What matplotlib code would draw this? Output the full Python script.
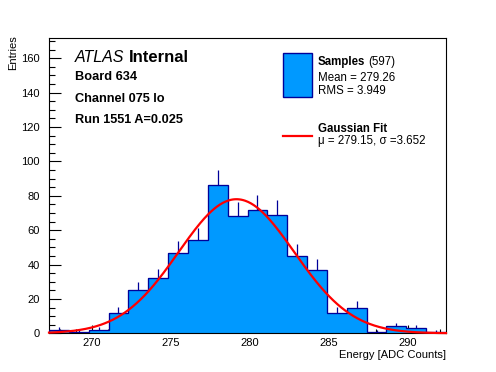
import numpy as np
import matplotlib
matplotlib.use('Agg')
import matplotlib.pyplot as plt
from matplotlib.patches import Rectangle
from matplotlib.lines import Line2D
plt.rcParams["font.family"] = ["Liberation Sans", "DejaVu Sans"]

# histogram: 20 bins between 267.3 and 292.4
bin_lo, bin_hi, n_bins = 267.3, 292.4, 20
counts = [2, 1, 2, 12, 25, 32, 47, 54, 86, 68,
          72, 69, 45, 37, 12, 15, 1, 4, 3, 1]

# fit shown in the legend
fit_mu, fit_sigma, fit_amp = 279.15, 3.652, 78.0

n_entries = 597
mean_txt, rms_txt = '279.26', '3.949'
x_ticks = [270, 275, 280, 285, 290]
y_ticks = [0, 20, 40, 60, 80, 100, 120, 140, 160]

W, H = 496, 372
FILL = '#0099ff'
EDGE = '#000099'


def px(x, y):
    # pixel position (from top-left) -> figure fraction
    return x / W, 1 - y / H


def main():
    fig = plt.figure(figsize=(W / 100, H / 100), dpi=100)
    l, b = px(49, 333.3)
    r, t = px(446, 38.3)
    ax = fig.add_axes([l, b, r - l, t - b])

    edges = np.linspace(bin_lo, bin_hi, n_bins + 1)
    centers = 0.5 * (edges[1:] + edges[:-1])
    cnt = np.array(counts, dtype=float)

    ax.errorbar(centers, cnt, yerr=np.sqrt(cnt), fmt='none', ecolor=EDGE,
                elinewidth=0.9, capsize=0, zorder=1)
    ax.stairs(cnt, edges, fill=True, color=FILL, zorder=2)
    ax.stairs(cnt, edges, baseline=0, color=EDGE, lw=0.95, zorder=3)

    xf = np.linspace(bin_lo, bin_hi, 400)
    yf = fit_amp * np.exp(-0.5 * ((xf - fit_mu) / fit_sigma) ** 2)
    ax.plot(xf, yf, color='red', lw=1.6, zorder=4, clip_on=False)

    ax.set_xlim(bin_lo, bin_hi)
    ax.set_ylim(0, 171.6)
    ax.set_xticks(x_ticks)
    ax.set_yticks(y_ticks)
    ax.set_xticks(np.arange(268, 293, 1), minor=True)
    ax.set_yticks(np.arange(0, 171, 5), minor=True)
    ax.tick_params(axis='x', which='major', direction='in', length=5.8,
                   width=0.8, labelsize=8, pad=3.5)
    ax.tick_params(axis='x', which='minor', direction='in', length=2.9, width=0.8)
    ax.tick_params(axis='y', which='major', direction='in', length=8.6,
                   width=0.8, labelsize=8, pad=6.5)
    ax.tick_params(axis='y', which='minor', direction='in', length=4.3, width=0.8)
    for s in ax.spines.values():
        s.set_linewidth(0.8)

    # axis titles
    fig.text(*px(13, 35), 'Entries', rotation=90, ha='center', va='top', fontsize=8)
    fig.text(*px(446, 358.5), 'Energy [ADC Counts]', ha='right', va='baseline', fontsize=8)

    # ATLAS label block
    fig.text(*px(74.5, 61.7), 'ATLAS', style='italic', fontsize=11.5, va='baseline')
    fig.text(*px(128.5, 61.7), 'Internal', weight='bold', fontsize=12, va='baseline')
    fig.text(*px(75, 80.3), 'Board 634', weight='bold', fontsize=9.2, va='baseline')
    fig.text(*px(75, 102), 'Channel 075 lo', weight='bold', fontsize=9.2, va='baseline')
    fig.text(*px(75, 123.3), 'Run 1551 A=0.025', weight='bold', fontsize=9.2, va='baseline')

    # legend, drawn by hand
    x0, y0 = px(283.3, 96.7)
    x1, y1 = px(311.7, 53.3)
    fig.add_artist(Rectangle((x0, y0), x1 - x0, y1 - y0, transform=fig.transFigure,
                             facecolor=FILL, edgecolor=EDGE, lw=1.0, zorder=5))
    fig.text(*px(317.7, 65.5), 'Samples', weight='bold', fontsize=8.3, va='baseline')
    fig.text(*px(368, 65.5), '(%d)' % n_entries, fontsize=8.3, va='baseline')
    fig.text(*px(317.7, 80.7), 'Mean = ' + mean_txt, fontsize=8.3, va='baseline')
    fig.text(*px(317.7, 94), 'RMS = ' + rms_txt, fontsize=8.3, va='baseline')

    lx0, ly = px(283, 135.7)
    lx1, _ = px(311.5, 135.7)
    fig.add_artist(Line2D([lx0, lx1], [ly, ly], transform=fig.transFigure,
                          color='red', lw=1.6, zorder=5))
    fig.text(*px(317.7, 132.2), 'Gaussian Fit', weight='bold', fontsize=8.3, va='baseline')
    fig.text(*px(317.7, 144), '\u03bc = %.2f, \u03c3 =%.3f' % (fit_mu, fit_sigma),
             fontsize=8.3, va='baseline')

    fig.savefig('out.png', dpi=100)


if __name__ == '__main__':
    main()
